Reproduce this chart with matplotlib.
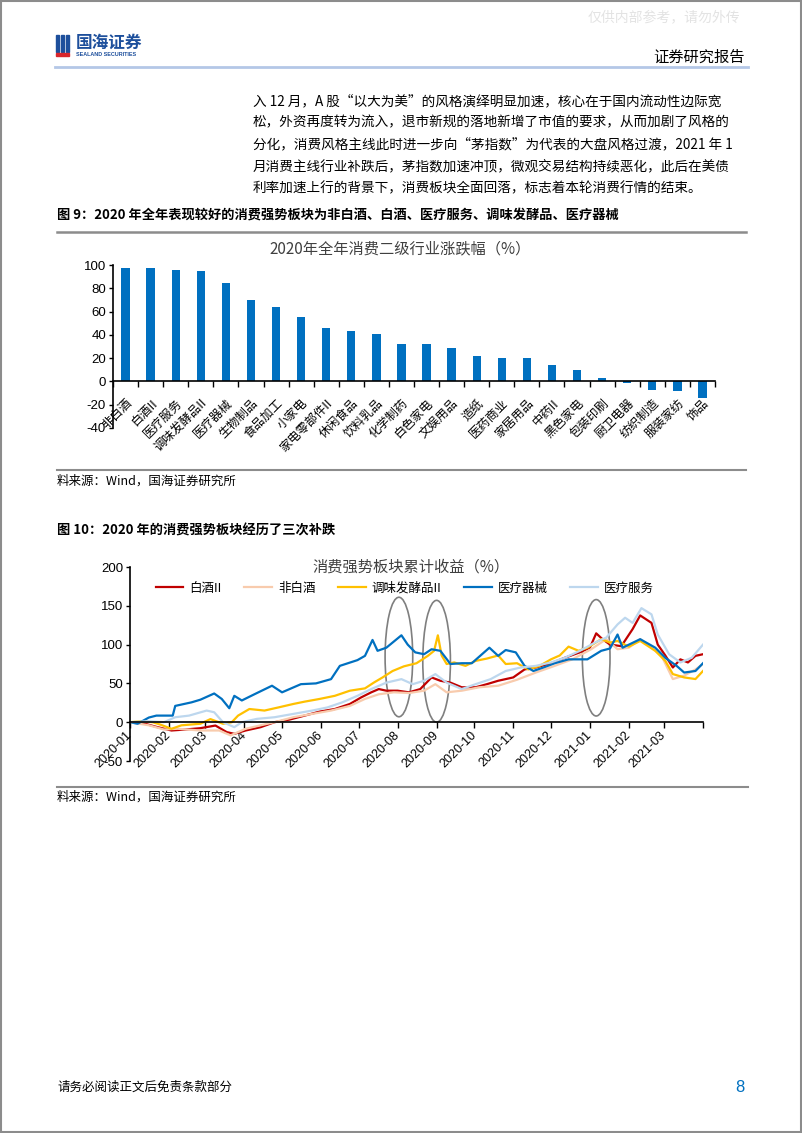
import numpy as np
import pandas as pd
import matplotlib
matplotlib.use("Agg")
import matplotlib.pyplot as plt
import matplotlib.dates as mdates
from matplotlib.patches import Rectangle, Ellipse
from matplotlib.lines import Line2D

CJK = ["Noto Sans CJK SC", "DejaVu Sans"]
NUM = ["Liberation Sans", "Noto Sans CJK SC"]
plt.rcParams["font.family"] = CJK
plt.rcParams["axes.unicode_minus"] = False

# ---- 图9 数据：2020年全年消费二级行业涨跌幅(%) ----
industries = ["非白酒", "白酒II", "医疗服务", "调味发酵品II", "医疗器械", "生物制品",
              "食品加工", "小家电", "家电零部件II", "休闲食品", "饮料乳品", "化学制药",
              "白色家电", "文娱用品", "造纸", "医药商业", "家居用品", "中药II",
              "黑色家电", "包装印刷", "厨卫电器", "纺织制造", "服装家纺", "饰品"]
returns_2020 = [97.8, 97.0, 95.6, 95.2, 84.2, 69.8, 64.2, 55.2, 46.2, 43.0, 41.0, 32.3,
                32.0, 28.9, 21.7, 20.2, 20.2, 14.1, 9.8, 2.9, -1.7, -7.2, -8.1, -14.4]

# ---- 图10 数据：消费强势板块累计收益(%)，横轴为距 2020-01-01 的天数 ----
start = pd.Timestamp("2020-01-01")

baijiu_days = [0, 12, 21, 33, 44, 56, 68, 77, 83, 92, 104, 115, 127, 139, 151, 163, 175, 184,
               192, 198, 204, 213, 222, 231, 240, 247, 255, 264, 275, 284, 293, 305, 314, 323,
               335, 346, 358, 366, 371, 376, 382, 391, 400, 406, 415, 420, 426, 432, 438, 444,
               450, 456]
baijiu = [0, -2, -6, -10.7, -9.4, -7.7, -4.3, -12.8, -15, -10.7, -6.4, 0, 3.4, 8.5, 13.7, 17,
          23.5, 32, 38.5, 42.7, 40.6, 40.6, 38.5, 42.7, 57.7, 53.4, 51, 45, 45, 49, 53.4, 57.7,
          68, 70.5, 76, 83, 90, 96, 114.5, 107, 100, 98, 120, 137.6, 128, 100, 86, 70.5, 81,
          77, 85.5, 87.6]

feibaijiu_days = [0, 15, 27, 38, 56, 71, 80, 92, 104, 115, 130, 145, 160, 175, 187, 198, 210,
                  222, 234, 243, 252, 264, 278, 293, 308, 323, 338, 352, 367, 379, 388, 397,
                  406, 415, 423, 432, 441, 450, 456]
feibaijiu = [0, -4, -9.4, -8.5, -10.7, -10.7, -17, -8.5, -4, 0, 6.4, 10.7, 15, 21, 30, 36,
             38.5, 37.6, 40.6, 49, 38.5, 40.6, 45, 47, 54.7, 64, 72.6, 81, 94, 107, 94, 96,
             107, 96, 85.5, 55.6, 60, 68, 75]

tiaowei_days = [0, 9, 18, 24, 33, 41, 56, 64, 74, 81, 86, 95, 107, 118, 130, 139, 151, 163,
                175, 187, 194, 201, 209, 218, 228, 237, 242, 245, 248, 252, 258, 267, 275, 284,
                293, 299, 308, 317, 326, 335, 342, 349, 357, 364, 375, 382, 388, 397, 406, 418,
                426, 432, 441, 450, 456]
tiaowei = [0, 1.3, 0, -3, -8.5, -4, -2, 4, -2, 0, 8.5, 17, 15, 19, 23.5, 26.5, 30, 34, 40.6,
           43.6, 51, 57.7, 66, 72, 76, 85.5, 92, 112, 86, 75, 77, 72.6, 79, 82, 86, 75, 76, 68,
           72.6, 81, 86, 97.4, 92, 96, 107, 102.6, 104.7, 97.4, 104.7, 92, 79, 62, 57.7, 55.6,
           66]

qixie_days = [0, 6, 15, 21, 34, 36, 49, 56, 67, 73, 79, 83, 89, 99, 113, 121, 136, 148, 160,
              167, 181, 187, 193, 197, 204, 216, 221, 227, 234, 240, 247, 255, 264, 272, 286,
              293, 299, 307, 314, 321, 329, 338, 349, 364, 375, 382, 388, 392, 406, 418, 426,
              435, 441, 450, 456]
qixie = [0, -2, 6, 8.5, 8.5, 21, 25.6, 29, 37, 30, 18, 34, 28, 36, 47, 38.5, 49, 50, 55.5,
         72.6, 80, 85.5, 106, 92, 96, 112, 100, 90, 87.6, 94, 92, 75, 76, 76, 96, 85.5, 93, 90,
         72.6, 66, 70.5, 76, 81, 81, 92, 95, 113, 96, 107, 96, 83, 72.6, 64, 66, 76]

fuwu_days = [0, 15, 27, 36, 47, 61, 67, 74, 83, 89, 101, 115, 130, 145, 157, 169, 181, 192,
             204, 216, 225, 234, 243, 252, 264, 275, 287, 299, 311, 323, 335, 346, 358, 370,
             379, 388, 394, 400, 407, 415, 420, 429, 438, 447, 456]
fuwu = [0, 1.3, 0, 6.4, 8.5, 15, 12.8, 0, -6.4, 0, 4.3, 6.4, 10.7, 15, 19, 25.6, 34, 42.7,
        51, 55.5, 49, 53.4, 62, 51, 42.7, 49, 55.5, 66, 70.5, 72.6, 77, 83, 92, 102.6, 109,
        126, 134.6, 128, 147, 139, 113, 87.6, 77, 83, 100]

series_names = ["白酒II", "非白酒", "调味发酵品II", "医疗器械", "医疗服务"]
series_colors = ["#C00000", "#F8CBAD", "#FFC000", "#0070C0", "#BDD7EE"]
series_days = [baijiu_days, feibaijiu_days, tiaowei_days, qixie_days, fuwu_days]
series_vals = [baijiu, feibaijiu, tiaowei, qixie, fuwu]

# 圈出的三次补跌区间：中心日期、纵向范围
circle_dates = ["2020-08-02", "2020-09-01", "2021-01-06"]
circle_low = [7, 0, 8]
circle_high = [161, 157, 158]

W, H = 802, 1133
fig = plt.figure(figsize=(W / 100, H / 100), dpi=100)


def fx(x):
    return x / W


def fy(y):
    return 1 - y / H


# 页面边框
fig.patches.append(Rectangle((0.001, 0.001), 0.998, 0.998, transform=fig.transFigure,
                             fill=False, edgecolor="#8c8c8c", linewidth=1.5))

# 页眉
fig.text(fx(740), fy(17), "仅供内部参考，请勿外传", ha="right", va="center",
         fontsize=10, color="#e3e3e3")
for x0 in [56, 61, 66]:
    fig.patches.append(Rectangle((fx(x0), fy(52)), fx(3), 17 / H, transform=fig.transFigure,
                                 color="#1d4f9c"))
fig.patches.append(Rectangle((fx(56), fy(56)), fx(13), 3 / H, transform=fig.transFigure,
                             color="#d9262c"))
fig.text(fx(76), fy(43), "国海证券", ha="left", va="center", fontsize=12,
         fontweight="bold", color="#1d4f9c")
fig.text(fx(76), fy(54), "SEALAND SECURITIES", ha="left", va="center", fontsize=3.9,
         fontweight="bold", color="#1d4f9c", family=NUM)
fig.text(fx(745), fy(57), "证券研究报告", ha="right", va="center", fontsize=11)
fig.add_artist(Line2D([fx(55), fx(748)], [fy(67), fy(67)], color="#b4c7e7", linewidth=2))

# 正文
body = [
    "入 12 月，A 股“以大为美”的风格演绎明显加速，核心在于国内流动性边际宽",
    "松，外资再度转为流入，退市新规的落地新增了市值的要求，从而加剧了风格的",
    "分化，消费风格主线此时进一步向“茅指数”为代表的大盘风格过渡，2021 年 1",
    "月消费主线行业补跌后，茅指数加速冲顶，微观交易结构持续恶化，此后在美债",
    "利率加速上行的背景下，消费板块全面回落，标志着本轮消费行情的结束。",
]
for i, line in enumerate(body):
    fig.text(fx(253), fy(101 + i * 21.8), line, ha="left", va="center", fontsize=9.8)

# 图9 标题
fig.text(fx(57), fy(215), "图 9：2020 年全年表现较好的消费强势板块为非白酒、白酒、医疗服务、调味发酵品、医疗器械",
         ha="left", va="center", fontsize=9.5, fontweight="bold")
fig.add_artist(Line2D([fx(57), fx(746)], [fy(232), fy(232)], color="#8c8c8c", linewidth=1.8))
fig.text(fx(400), fy(249), "2020年全年消费二级行业涨跌幅（%）", ha="center", va="center",
         fontsize=11, color="#404040")

# 柱状图
ax1 = fig.add_axes([fx(113), fy(428), 602 / W, (428 - 265) / H])
x = np.arange(len(industries))
ax1.bar(x, returns_2020, width=0.33, color="#0070C0")
ax1.spines["top"].set_visible(False)
ax1.spines["right"].set_visible(False)
ax1.spines["bottom"].set_position(("data", 0))
ax1.spines["left"].set_linewidth(1.2)
ax1.spines["bottom"].set_linewidth(1.2)
ax1.set_xlim(-0.5, len(industries) - 0.5)
ax1.set_ylim(-40, 100)
ax1.set_yticks(range(-40, 101, 20))
ax1.set_yticklabels([str(v) for v in range(-40, 101, 20)], family=NUM, fontsize=9.5)
ax1.set_xticks(x)
ax1.set_xticklabels(industries, rotation=45, ha="right", va="top",
                    rotation_mode="anchor", fontsize=8.8)
ax1.set_xticks(np.arange(-0.5, len(industries), 1), minor=True)
ax1.tick_params(axis="x", which="major", length=0, pad=11)
ax1.tick_params(axis="x", which="minor", length=4, width=1)
ax1.tick_params(axis="y", length=3, width=1, pad=2)

# 资料来源
fig.add_artist(Line2D([fx(57), fx(746)], [fy(470), fy(470)], color="#8c8c8c", linewidth=1.5))
fig.text(fx(57), fy(481), "料来源：Wind，国海证券研究所", ha="left", va="center", fontsize=9)

# 图10 标题
fig.text(fx(57), fy(531), "图 10：2020 年的消费强势板块经历了三次补跌", ha="left", va="center",
         fontsize=9.5, fontweight="bold")

# 折线图
ax2 = fig.add_axes([fx(130), fy(761), 573 / W, (761 - 567) / H])
for name, col, d, v in zip(series_names, series_colors, series_days, series_vals):
    dates = start + pd.to_timedelta(d, unit="D")
    ax2.plot(dates, v, color=col, linewidth=1.6, label=name)

for cd, lo, hi in zip(circle_dates, circle_low, circle_high):
    cx = mdates.date2num(pd.Timestamp(cd))
    ax2.add_patch(Ellipse((cx, (lo + hi) / 2), 22, hi - lo, fill=False,
                          edgecolor="#7f7f7f", linewidth=1.2))

ax2.spines["top"].set_visible(False)
ax2.spines["right"].set_visible(False)
ax2.spines["bottom"].set_position(("data", 0))
ax2.spines["left"].set_linewidth(1.2)
ax2.spines["bottom"].set_linewidth(1.2)
ax2.set_xlim(pd.Timestamp("2020-01-01"), pd.Timestamp("2021-04-01"))
ax2.set_ylim(-50, 200)
ax2.set_yticks(range(-50, 201, 50))
ax2.set_yticklabels([str(v) for v in range(-50, 201, 50)], family=NUM, fontsize=9.5)
month_ticks = pd.date_range("2020-01-01", "2021-04-01", freq="MS")
ax2.set_xticks(month_ticks)
ax2.set_xticklabels([d.strftime("%Y-%m") if d < pd.Timestamp("2021-04-01") else ""
                     for d in month_ticks], rotation=45, ha="right", va="center",
                    rotation_mode="anchor", family=NUM, fontsize=9)
ax2.tick_params(axis="x", length=4, width=1, pad=4)
ax2.tick_params(axis="y", length=3, width=1, pad=2)
ax2.text(0.49, 1.0, "消费强势板块累计收益（%）", transform=ax2.transAxes, ha="center",
         va="center", fontsize=11, color="#404040")
ax2.legend(loc="center", bbox_to_anchor=(0.48, 0.89), ncol=5, frameon=False, fontsize=9,
           handlelength=2.2, handletextpad=0.5, columnspacing=1.8)

fig.add_artist(Line2D([fx(57), fx(748)], [fy(787), fy(787)], color="#8c8c8c", linewidth=1.5))
fig.text(fx(57), fy(797), "料来源：Wind，国海证券研究所", ha="left", va="center", fontsize=9)

# 页脚
fig.text(fx(57), fy(1087), "请务必阅读正文后免责条款部分", ha="left", va="center", fontsize=9)
fig.text(fx(745), fy(1087), "8", ha="right", va="center", fontsize=12, color="#0070C0",
         family=NUM)

fig.savefig("out.png", dpi=100)
